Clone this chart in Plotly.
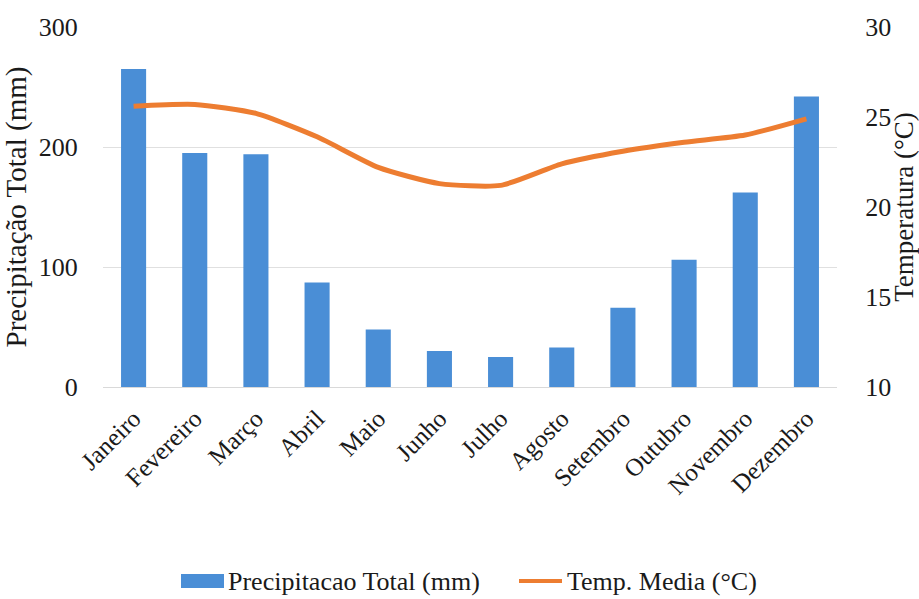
import plotly.graph_objects as go

# Monthly climate normals
meses = ["Janeiro", "Fevereiro", "Março", "Abril", "Maio", "Junho",
         "Julho", "Agosto", "Setembro", "Outubro", "Novembro", "Dezembro"]
precipitacao_mm = [265, 195, 194, 87, 48, 30, 25, 33, 66, 106, 162, 242]
temp_media_c = [25.6, 25.7, 25.2, 23.9, 22.2, 21.3, 21.2, 22.4, 23.1, 23.6, 24.0, 24.9]

FONT = "Liberation Serif"
W, H = 919, 599
PLOT_L, PLOT_R, PLOT_T, PLOT_B = 103, 837, 27, 387
BAR_COLOR = "#4A8ED6"
LINE_COLOR = "#ED7D31"


def px_x(x):
    """Pixel column -> paper x."""
    return (x - PLOT_L) / (PLOT_R - PLOT_L)


def px_y(y):
    """Pixel row -> paper y."""
    return (PLOT_B - y) / (PLOT_B - PLOT_T)


fig = go.Figure()

fig.add_trace(go.Bar(
    x=meses, y=precipitacao_mm,
    name="Precipitacao Total (mm)",
    marker=dict(color=BAR_COLOR, line=dict(width=0)),
    yaxis="y",
))

fig.add_trace(go.Scatter(
    x=meses, y=temp_media_c,
    name="Temp. Media (°C)",
    mode="lines",
    line=dict(color=LINE_COLOR, width=5, shape="spline", smoothing=0.6),
    yaxis="y2",
))

# Legend row under the month labels: wide swatch for the bars, a short stroke for the line
leg_y = 581
fig.add_shape(type="rect", xref="paper", yref="paper",
              x0=px_x(181), x1=px_x(224), y0=px_y(588), y1=px_y(574),
              fillcolor=BAR_COLOR, line=dict(width=0))
fig.add_shape(type="line", xref="paper", yref="paper",
              x0=px_x(519), x1=px_x(562), y0=px_y(leg_y), y1=px_y(leg_y),
              line=dict(color=LINE_COLOR, width=4))
for label, x0 in [(fig.data[0].name, 226), (fig.data[1].name, 565)]:
    fig.add_annotation(text=label, xref="paper", yref="paper",
                       x=px_x(x0), y=px_y(leg_y), xanchor="left", yanchor="middle",
                       showarrow=False, font=dict(family=FONT, size=26, color="#1a1a1a"))

fig.update_layout(
    width=W, height=H,
    margin=dict(l=PLOT_L, r=W - PLOT_R, t=PLOT_T, b=H - PLOT_B, autoexpand=False),
    paper_bgcolor="white", plot_bgcolor="white",
    font=dict(family=FONT, size=26, color="#1a1a1a"),
    bargap=0.59,
    showlegend=False,
    xaxis=dict(
        tickangle=-45, showgrid=False, showline=True, linecolor="#D9D9D9",
        linewidth=1, ticks="outside", ticklen=6, tickcolor="white",
        tickfont=dict(family=FONT, size=25),
    ),
    yaxis=dict(
        range=[0, 300], dtick=100, showgrid=True, gridcolor="#E0E0E0",
        zeroline=False, ticks="outside", ticklen=19, tickcolor="white",
        title=dict(text="Precipitação Total (mm)", font=dict(family=FONT, size=29), standoff=3),
        tickfont=dict(family=FONT, size=26),
    ),
    yaxis2=dict(
        range=[10, 30], dtick=5, overlaying="y", side="right", showgrid=False,
        zeroline=False, ticks="outside", ticklen=22, tickcolor="white",
        title=dict(text="Temperatura (°C)", font=dict(family=FONT, size=27), standoff=0),
        tickfont=dict(family=FONT, size=26),
    ),
)

fig.write_html("out.html")
